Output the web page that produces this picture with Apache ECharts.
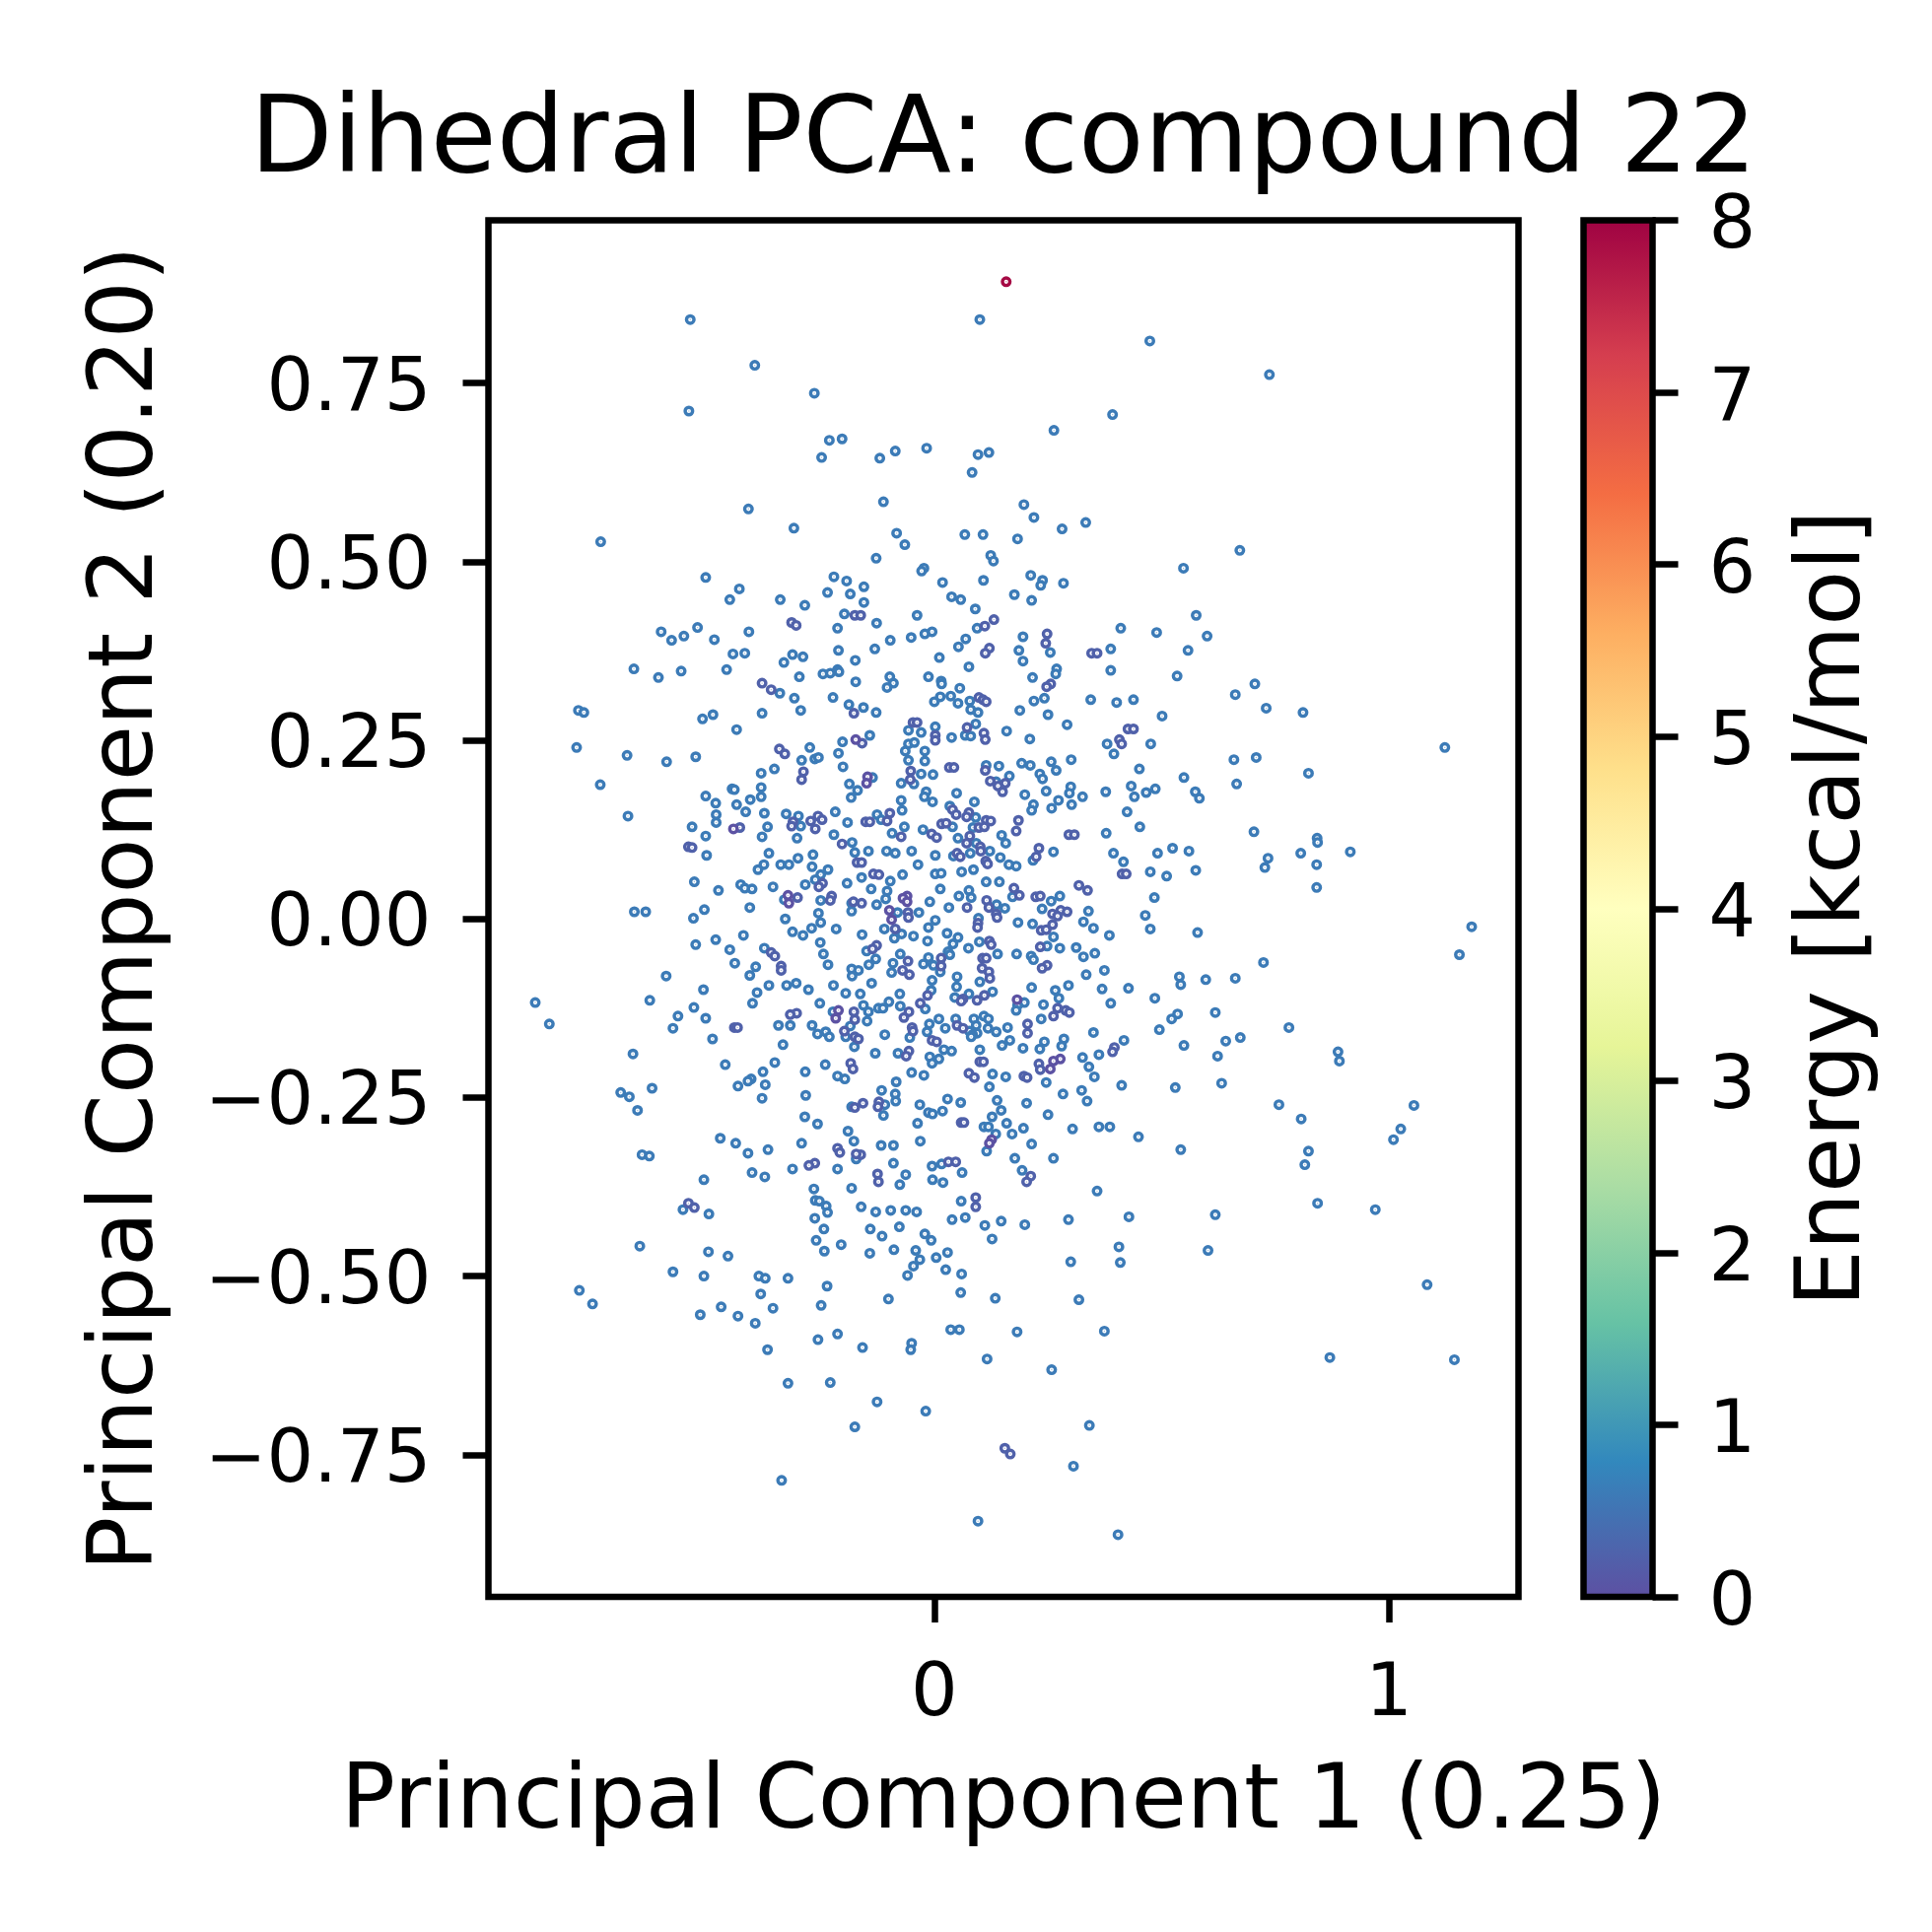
<!DOCTYPE html>
<html><head><meta charset="utf-8">
<style>html,body{margin:0;padding:0;background:#fff}#c{width:1960px;height:1960px}</style>
<script src="https://cdn.jsdelivr.net/npm/echarts@6/dist/echarts.min.js"></script>
</head><body><div id="c"></div>
<script>
const titleText = "Dihedral PCA: compound 22";
const xName = "Principal Component 1 (0.25)";
const yName = "Principal Component 2 (0.20)";
const cbName = "Energy [kcal/mol]";
const xTicks = [0, 1];
const yTicks = [-0.75, -0.5, -0.25, 0, 0.25, 0.5, 0.75];
const cbRange = [0, 8];
const spectralR = ['#5e4fa2','#3288bd','#66c2a5','#abdda4','#e6f598','#ffffbf','#fee08b','#fdae61','#f46d43','#d53e4f','#9e0142'];
const energyBlue = 0.62, energyPurple = 0.25, energyDeep = 0.04, energyHigh = 7.9;
const highPoints = [[.158,.892]];
const bluePoints = [
[-.537,.839],[-.395,.775],[-.264,.736],[-.540,.711],[-.231,.670],[-.248,.646],
[.100,.839],[.474,.809],[.392,.706],[.263,.684],[-.203,.672],[-.120,.645],[-.086,.655],[-.017,.659],[.096,.650],[.120,.653],[.083,.625],[.737,.762],
[-.409,.574],[-.309,.547],[-.734,.528],[-.503,.478],[-.221,.479],[-.429,.462],[-.450,.447],[-.339,.447],[-.235,.457],[-.285,.439],[-.213,.407],[-.601,.402],[-.521,.408],[-.551,.396],[-.578,.390],[-.484,.391],[-.408,.402],[-.443,.371],[-.417,.372],[-.312,.370],[-.289,.367],[-.331,.359],[-.211,.376],[-.661,.350],[-.607,.338],[-.557,.347],[-.457,.349],[-.297,.339],[-.245,.343],[-.229,.344],[-.213,.349],[-.340,.316],[-.308,.309],[-.223,.310],[-.783,.292],[-.771,.289],[-.510,.280],[-.487,.286],[-.379,.288],[-.294,.292],[-.435,.265],[-.787,.240],[-.676,.229],[-.589,.220],[-.525,.227],[-.274,.240],[-.263,.224],[-.255,.226],[-.292,.222],[-.211,.232],[-.352,.210],[-.381,.204],[-.735,.188],[-.381,.184],[-.445,.182],[-.440,.181],[-.381,.171],[-.405,.167],[-.503,.172],[-.481,.162],[-.435,.160],[-.674,.144],[-.415,.150],[-.480,.146],[-.480,.135],[-.374,.148],[-.326,.147],[-.299,.144],[-.218,.150],[-.294,.130],[-.533,.129],[-.367,.129],[-.503,.116],[-.379,.115],[-.302,.113],[-.221,.118],
[-.112,.584],[.197,.580],[.219,.562],[.333,.555],[.281,.546],[-.083,.540],[.067,.538],[.107,.538],[.183,.532],[-.065,.524],[-.128,.505],[.124,.509],[.130,.501],[-.023,.491],[-.028,.487],[.212,.481],[.238,.474],[.234,.467],[.284,.470],[-.193,.473],[.018,.471],[.108,.474],[-.155,.465],[-.185,.455],[.176,.454],[.038,.451],[.058,.447],[.214,.446],[-.155,.443],[.090,.434],[-.198,.427],[-.038,.425],[-.127,.414],[.094,.407],[.410,.407],[.489,.401],[-.005,.402],[-.021,.399],[.069,.392],[-.051,.394],[-.097,.390],[.195,.395],[.053,.381],[-.131,.378],[.186,.376],[.255,.373],[.388,.378],[.011,.366],[-.174,.362],[.195,.361],[.076,.353],[.269,.350],[.388,.348],[-.210,.346],[.267,.343],[-.013,.339],[.216,.338],[-.098,.339],[-.090,.330],[-.104,.324],[-.173,.332],[.015,.333],[.016,.329],[.056,.323],[.036,.312],[.013,.311],[.000,.304],[.078,.305],[.052,.302],[.242,.309],[.219,.305],[.344,.307],[.438,.307],[.401,.303],[-.188,.300],[-.156,.296],[-.128,.289],[.080,.293],[.096,.289],[.188,.292],[.250,.286],[.501,.284],[.292,.272],[.091,.273],[.002,.269],[-.057,.264],[-.029,.261],[.159,.263],[.038,.254],[.068,.257],[.080,.256],[-.142,.257],[.210,.252],[-.202,.248],[-.057,.245],[-.044,.247],[.380,.245],[.476,.245],[-.064,.235],[-.021,.235],[.395,.231],[-.057,.222],[-.021,.221],[.301,.223],[.257,.220],[.192,.218],[.211,.215],[.114,.215],[.142,.214],[-.201,.213],[.268,.208],[.451,.210],[-.029,.203],[-.003,.202],[.232,.203],[.165,.200],[.238,.196],[-.136,.198],[.136,.192],[-.187,.189],[-.073,.190],[-.045,.189],[.300,.185],[.433,.186],[.486,.182],[-.169,.180],[.246,.179],[.297,.176],[.377,.178],[.466,.177],[.049,.176],[-.018,.178],[-.183,.170],[.199,.174],[.440,.171],[.326,.171],[-.022,.171],[-.073,.166],[-.004,.164],[.088,.164],[.273,.166],[.218,.160],[.302,.160],[.034,.158],[-.071,.152],[.258,.155],[.214,.152],[.424,.150],[-.126,.146],[.091,.142],[-.117,.139],[-.191,.135],[.452,.129],[-.066,.129],[-.025,.125],[.040,.129],[.085,.128],[-.093,.120],[.052,.113],[.148,.117],[.378,.120],
[.672,.516],[.548,.491],[.576,.425],[.600,.396],[.558,.376],[.534,.340],[.705,.329],[.662,.314],[.730,.295],[.811,.289],[1.123,.240],[.708,.226],[.659,.223],[.549,.198],[.823,.204],[.665,.189],[.574,.178],[.583,.169],[.703,.122],[.842,.113],
[.843,.107],[.560,.095],[.806,.092],[.915,.094],[.734,.085],[.727,.072],[.841,.076],[.575,.068],[.841,.044],[1.182,-.011],[1.155,-.050],[.579,-.019],[.724,-.061],[.539,-.081],[.542,-.092],[.597,-.085],[.662,-.083],[.618,-.131],[.780,-.152],[.673,-.166],[.641,-.171],[.549,-.177],[.623,-.192],[.888,-.186],[.891,-.199],[.632,-.230],[.758,-.260],[.807,-.280],[1.055,-.261],[1.026,-.294],[1.010,-.309],[.542,-.323],[.823,-.325],[.815,-.344],[.843,-.398],[.970,-.407],[.618,-.414],[.602,-.464],[1.084,-.512],[1.144,-.617],[.870,-.614],
[-.501,.089],[-.364,.092],[-.267,.090],[-.300,.085],[-.375,.076],[-.388,.069],[-.338,.076],[-.320,.076],[-.269,.073],[-.234,.069],[-.250,.062],[-.262,.055],[-.528,.052],[-.426,.048],[-.417,.043],[-.401,.042],[-.475,.040],[-.355,.045],[-.284,.048],[-.330,.027],[-.250,.026],[-.406,.016],[-.506,.013],[-.660,.010],[-.635,.010],[-.530,.001],[-.328,.000],[-.255,.008],[-.250,-.005],[-.216,-.014],[-.270,-.013],[-.312,-.018],[-.289,-.023],[-.420,-.023],[-.481,-.029],[-.525,-.036],[-.251,-.033],[-.450,-.043],[-.374,-.041],[-.244,-.049],[-.439,-.062],[-.393,-.067],[-.234,-.064],[-.406,-.079],[-.590,-.080],[-.364,-.093],[-.325,-.093],[-.304,-.090],[-.277,-.099],[-.222,-.093],[-.508,-.099],[-.390,-.103],[-.878,-.117],[-.626,-.114],[-.400,-.118],[-.252,-.118],[-.529,-.124],[-.223,-.130],[-.564,-.136],[-.503,-.139],[-.847,-.147],[-.575,-.153],[-.343,-.149],[-.317,-.149],[-.269,-.149],[-.257,-.161],[-.239,-.158],[-.231,-.165],[-.488,-.168],[-.333,-.176],[-.663,-.189],[-.351,-.201],[-.460,-.204],[-.240,-.204],[-.377,-.214],[-.284,-.214],[-.213,-.220],[-.403,-.224],[-.410,-.227],[-.372,-.232],[-.432,-.234],[-.621,-.237],[-.690,-.243],[-.671,-.249],[-.379,-.251],[-.283,-.247],[-.653,-.268],[-.285,-.277],[-.257,-.287],[-.471,-.307],[-.437,-.314],[-.292,-.314],[-.410,-.328],[-.366,-.323],[-.643,-.330],[-.627,-.332],[-.312,-.350],[-.401,-.355],[-.373,-.361],[-.213,-.350],[-.507,-.365],
[-.265,-.378],[-.262,-.394],[-.253,-.395],[-.238,-.402],[-.235,-.411],[-.553,-.407],[-.496,-.413],[-.263,-.419],[-.243,-.434],[-.260,-.450],[-.242,-.465],[-.648,-.458],[-.497,-.466],[-.454,-.472],[-.575,-.494],[-.507,-.500],[-.386,-.500],[-.372,-.503],[-.322,-.503],[-.236,-.514],[-.382,-.525],[-.781,-.520],[-.752,-.539],[-.355,-.545],[-.249,-.541],[-.469,-.543],[-.515,-.554],[-.432,-.556],[-.394,-.566],[-.256,-.589],[-.213,-.581],[-.367,-.603],[-.322,-.650],[-.229,-.649],[-.336,-.786],
[-.181,.107],[-.145,.095],[-.105,.095],[-.086,.092],[-.050,.095],[-.175,.093],[.002,.089],[.042,.088],[.079,.092],[.092,.106],[.122,.095],[.157,.106],[.217,.082],[.262,.094],[.394,.092],[.491,.092],[.524,.099],[.416,.080],[-.036,.076],[.145,.086],[.164,.076],[.180,.074],[.475,.066],[.511,.060],[.002,.063],[.015,.064],[.060,.066],[.086,.069],[-.160,.058],[-.070,.062],[-.192,.050],[-.097,.053],[.114,.052],[.143,.052],[.013,.042],[-.139,.042],[-.104,.039],[.076,.040],[.054,.032],[.081,.030],[.172,.031],[.276,.032],[.484,.030],[-.107,.028],[.257,.025],[-.182,.022],[-.127,.020],[-.010,.024],[.137,.020],[.155,.015],[.032,.016],[.237,.014],[-.182,.011],[-.081,.009],[-.034,.009],[.339,.011],[.464,.005],[.097,.001],[.002,-.002],[.184,-.005],[.216,-.007],[.328,-.004],[.350,-.013],[.475,-.014],[-.013,-.012],[-.110,-.014],[.028,-.020],[-.072,-.021],[-.159,-.022],[-.046,-.024],[-.088,-.027],[.052,-.026],[.262,-.025],[.385,-.023],[-.015,-.031],[.041,-.035],[.099,-.032],[-.149,-.045],[.248,-.038],[.075,-.041],[.276,-.041],[.312,-.040],[-.075,-.049],[.030,-.046],[.034,-.050],[.139,-.049],[.181,-.049],[.353,-.048],[.328,-.053],[.213,-.052],[.218,-.057],[-.129,-.056],[-.013,-.054],[-.091,-.062],[-.144,-.064],[-.024,-.063],[-.002,-.065],[-.182,-.070],[-.167,-.072],[.374,-.072],[.013,-.074],[-.094,-.075],[.334,-.078],[-.181,-.080],[.050,-.081],[-.005,-.086],[.100,-.088],[-.138,-.090],[.049,-.095],[.295,-.093],[.214,-.096],[.427,-.097],[.369,-.098],[.128,-.102],[.266,-.100],[-.007,-.100],[-.195,-.104],[-.163,-.105],[-.076,-.105],[.076,-.105],[.274,-.111],[.045,-.110],[.485,-.111],[-.100,-.116],[.198,-.117],[.388,-.118],[-.156,-.121],[-.075,-.122],[.240,-.120],[.183,-.121],[-.123,-.125],[-.113,-.125],[-.020,-.126],[-.145,-.130],[.180,-.128],[.535,-.133],[.010,-.140],[.047,-.140],[.087,-.140],[.109,-.136],[.119,-.140],[.235,-.140],[.522,-.140],[-.148,-.143],[-.011,-.147],[-.185,-.150],[.024,-.153],[.092,-.149],[.118,-.153],[.161,-.152],[-.016,-.158],[.077,-.157],[.094,-.160],[.136,-.158],[.350,-.159],[.495,-.155],[-.109,-.162],[.084,-.162],[.081,-.165],[-.195,-.165],[-.054,-.166],[.285,-.168],[.417,-.170],[.166,-.170],[.242,-.172],[.149,-.177],[.280,-.178],[-.176,-.179],[.195,-.181],[.232,-.182],[.021,-.183],[.038,-.185],[.100,-.183],[-.080,-.188],[-.130,-.188],[.362,-.190],[-.010,-.193],[.326,-.194],[.010,-.196],[-.005,-.202],[.340,-.207],[-.050,-.215],[-.023,-.219],[.128,-.217],[.157,-.221],[.352,-.221],[-.197,-.224],[-.084,-.228],[.246,-.229],[.412,-.233],[.121,-.235],[.530,-.236],[-.116,-.240],[.324,-.240],[-.086,-.245],[.283,-.245],[.029,-.252],[-.085,-.255],[.336,-.255],[.138,-.254],[-.109,-.260],[-.032,-.260],[.058,-.257],[.203,-.258],[-.182,-.263],[.147,-.268],[-.013,-.271],[-.004,-.273],[.018,-.269],[-.112,-.275],[.250,-.274],[.127,-.277],[-.037,-.286],[.159,-.286],[-.190,-.297],[.109,-.291],[.119,-.291],[.362,-.291],[.386,-.291],[.304,-.294],[.196,-.293],[.135,-.301],[.171,-.301],[.449,-.305],[-.177,-.311],[-.031,-.311],[.214,-.315],[-.117,-.317],[-.090,-.317],[.115,-.325],[-.172,-.336],[.177,-.335],[.262,-.335],[.016,-.343],[-.005,-.346],[-.090,-.342],[.061,-.355],[.193,-.352],[-.063,-.358],[-.004,-.365],[.019,-.369],[-.076,-.372],
[-.182,-.377],[.358,-.381],[.059,-.395],[-.161,-.403],[-.129,-.410],[-.096,-.408],[-.063,-.408],[-.039,-.410],[.428,-.417],[.039,-.421],[.068,-.418],[.295,-.421],[.111,-.429],[.147,-.423],[.199,-.428],[-.141,-.434],[-.077,-.431],[-.115,-.444],[-.021,-.441],[-.007,-.450],[.127,-.448],[.406,-.459],[-.205,-.456],[-.142,-.468],[-.089,-.463],[-.041,-.464],[.029,-.467],[.004,-.474],[-.032,-.477],[.300,-.480],[.409,-.481],[-.046,-.486],[.025,-.491],[.060,-.497],[-.059,-.499],[.058,-.523],[-.101,-.532],[.134,-.531],[.318,-.533],[.036,-.575],[.055,-.575],[.182,-.578],[.374,-.577],[-.050,-.594],[-.052,-.603],[-.158,-.600],[.116,-.616],[.258,-.631],[-.126,-.676],[-.019,-.689],[.341,-.709],[-.175,-.711],[.306,-.766],[.096,-.843],[.404,-.862]
];
const purplePoints = [
[-.314,.415],[-.304,.411],[-.379,.330],[-.359,.321],[-.341,.238],[-.329,.231],[-.288,.206],[-.292,.195],[-.256,.144],[-.247,.139],[-.272,.137],[-.311,.136],[-.314,.130],[-.262,.126],[-.428,.128],
[-.175,.425],[-.162,.425],[.131,.419],[.111,.410],[.248,.399],[.245,.386],[.121,.379],[.112,.372],[.346,.372],[.358,.372],[.256,.329],[.247,.325],[.098,.310],[.107,.307],[.114,.304],[-.177,.288],[-.047,.275],[-.038,.275],[.072,.268],[.426,.266],[.438,.266],[.109,.260],[.002,.257],[.002,.250],[.112,.251],[-.159,.246],[.407,.251],[.412,.245],[.033,.212],[.043,.212],[.112,.208],[-.052,.207],[-.053,.195],[.123,.193],[.156,.190],[.140,.186],[.150,.178],[-.098,.148],[.040,.153],[.048,.146],[.076,.149],[.071,.143],[-.104,.137],[.114,.138],[.124,.137],[.185,.138],[.016,.133],[.026,.134],[.098,.128],[.110,.129],[.180,.123],[-.006,.119],[-.073,.115],[.005,.114],[.078,.116],[.296,.118],[.308,.118],[-.151,.136],[-.142,.136],
[-.541,.101],[-.533,.100],[-.246,.050],[-.254,.045],[-.301,.030],[-.226,.032],[-.229,.026],[-.359,-.047],[-.351,-.052],[-.337,-.066],[-.337,-.072],[-.303,-.132],[-.317,-.134],[-.440,-.152],[-.433,-.152],[-.213,-.321],[-.208,-.327],[-.263,-.342],[-.276,-.345],
[-.541,-.398],[-.528,-.404],
[-.203,.105],[.050,.092],[.057,.087],[.071,.106],[.101,.101],[.102,.095],[.230,.099],[.224,.087],[-.170,.079],[-.160,.079],[.113,.081],[.117,.077],[.413,.063],[.422,.063],[-.134,.063],[-.122,.062],[.175,.043],[.318,.047],[.337,.040],[.187,.033],[.223,.031],[.233,.032],[-.178,.024],[-.160,.022],[.115,.026],[.120,.016],[.072,.016],[-.058,.009],[-.057,.002],[.278,.012],[.292,.010],[.260,.007],[.271,.004],[.136,.007],[.138,.002],[.096,-.006],[.095,-.012],[.260,-.008],[-.086,-.014],[.235,-.016],[.246,-.015],[.121,-.031],[.125,-.036],[-.127,-.037],[-.136,-.042],[.233,-.039],[.015,-.055],[.106,-.055],[.114,-.055],[-.058,-.059],[.015,-.066],[.248,-.065],[.237,-.069],[.105,-.069],[-.070,-.072],[.120,-.074],[-.055,-.078],[.122,-.083],[.110,-.107],[-.015,-.107],[.094,-.114],[.063,-.112],[.059,-.115],[-.031,-.118],[.271,-.125],[.289,-.128],[.297,-.131],[-.177,-.130],[-.056,-.130],[.262,-.136],[-.067,-.138],[-.175,-.141],[.050,-.149],[.205,-.147],[.063,-.153],[-.049,-.152],[-.047,-.157],[-.198,-.157],[.205,-.160],[-.175,-.165],[-.167,-.168],[-.005,-.170],[.005,-.172],[.396,-.180],[.392,-.186],[-.056,-.185],[-.062,-.192],[.100,-.200],[.108,-.200],[-.184,-.202],[.230,-.203],[-.179,-.210],[.233,-.211],[.076,-.216],[.088,-.222],[.197,-.220],[.204,-.222],[-.157,-.258],[-.122,-.256],[-.124,-.263],[-.175,-.264],[.059,-.285],[.065,-.285],[-.162,-.330],[-.172,-.329],[.031,-.340],[.047,-.340],[.212,-.360],[-.125,-.357],[-.123,-.368],[.203,-.368],
[.091,-.390],[.091,-.403],[.155,-.741],[.167,-.749]
];
const deepPoints = [
[-.442,.126],[-.322,.033],[-.320,.022],[-.147,.199],[-.149,.190],[-.173,.251],[-.211,-.128],[-.217,-.139],[-.060,.032],[-.069,.029],[-.060,.024],[-.099,.012],[-.094,-.001],[.182,-.113],[.277,-.196],[.262,-.199],[.255,-.210],[.126,-.309],[.121,-.314]
];

const pts = [];
bluePoints.forEach(p => pts.push([p[0], p[1], energyBlue]));
purplePoints.forEach(p => pts.push([p[0], p[1], energyPurple]));
deepPoints.forEach(p => pts.push([p[0], p[1], energyDeep]));
highPoints.forEach(p => pts.push([p[0], p[1], energyHigh]));

const FONT = 'DejaVu Sans';
const chart = echarts.init(document.getElementById('c'), null, {renderer:'canvas', width:1960, height:1960});
const colorStops = spectralR.map((c,i)=>({offset:1-i/(spectralR.length-1), color:c}));
const yLabel = v => { const s = Math.abs(v).toFixed(2); return '{t|'+(v<0?'\u2212':'')+s+'}'; };
const tickStyle = {show:true,length:26,lineStyle:{width:6.5,color:'#000'}};
chart.setOption({
  animation:false,
  backgroundColor:'#fff',
  title:{text:titleText,left:1013,top:141,textAlign:'center',textVerticalAlign:'middle',
    textStyle:{fontFamily:FONT,fontSize:108.8,fontWeight:'normal',color:'#000'}},
  visualMap:{show:false,type:'continuous',min:cbRange[0],max:cbRange[1],dimension:2,seriesIndex:0,inRange:{color:spectralR}},
  grid:[
    {left:495.5,top:223.5,width:1045,height:1396.5,show:true,borderColor:'#000',borderWidth:6.5,backgroundColor:'#fff'},
    {left:1606.5,top:223.5,width:70,height:1396.5,show:false}
  ],
  xAxis:[
    {type:'value',gridIndex:0,position:'bottom',min:-.981,max:1.285,splitLine:{show:false},axisLine:{show:false,onZero:false},
     axisTick:{...tickStyle,customValues:xTicks},
     axisLabel:{margin:63,fontFamily:FONT,fontSize:75,color:'#000',customValues:xTicks,formatter:v=>String(v),showMinLabel:true,showMaxLabel:true},
     name:xName,nameLocation:'middle',nameGap:164,nameTextStyle:{fontFamily:FONT,fontSize:91.7,color:'#000'}},
    {type:'value',gridIndex:1,min:0,max:1,show:false}
  ],
  yAxis:[
    {type:'value',gridIndex:0,position:'left',min:-.949,max:.978,splitLine:{show:false},axisLine:{show:false,onZero:false},
     axisTick:{...tickStyle,customValues:yTicks},
     axisLabel:{margin:58,customValues:yTicks,formatter:yLabel,
       rich:{t:{fontFamily:FONT,fontSize:75,color:'#000',padding:[15,0,0,0]}}},
     name:yName,nameLocation:'middle',nameGap:319,nameRotate:90,nameTextStyle:{fontFamily:FONT,fontSize:91.7,color:'#000'}},
    {type:'value',gridIndex:1,min:cbRange[0],max:cbRange[1],interval:1,position:'right',splitLine:{show:false},
     axisLine:{show:false,onZero:false},
     axisTick:tickStyle,
     axisLabel:{margin:57,formatter:v=>'{t|'+v+'}',
       rich:{t:{fontFamily:FONT,fontSize:75,color:'#000',padding:[17,0,0,0]}}},
     name:cbName,nameLocation:'middle',nameGap:140,nameRotate:90,nameTextStyle:{fontFamily:FONT,fontSize:91.7,color:'#000'}}
  ],
  series:[
    {type:'custom',xAxisIndex:0,yAxisIndex:0,data:pts,silent:true,z:3,clip:true,encode:{x:0,y:1},
     renderItem:(params,api)=>{
       const c=api.coord([api.value(0),api.value(1)]), col=api.visual('color');
       return {type:'group',children:[
         {type:'circle',shape:{cx:c[0],cy:c[1],r:3.8},style:{fill:'#fff',stroke:col,lineWidth:3.4}},
         {type:'circle',shape:{cx:c[0],cy:c[1],r:0.7},style:{fill:col,opacity:0.5}}
       ]};
     }},
    {type:'custom',xAxisIndex:1,yAxisIndex:1,silent:true,z:3,clip:false,
     data:[[0,cbRange[0],1,cbRange[1]]],encode:{x:[0,2],y:[1,3]},
     renderItem:(params,api)=>{
       const a=api.coord([api.value(0),api.value(1)]), b=api.coord([api.value(2),api.value(3)]);
       return {type:'rect',shape:{x:a[0],y:b[1],width:b[0]-a[0],height:a[1]-b[1]},
         style:{fill:new echarts.graphic.LinearGradient(0,0,0,1,colorStops),stroke:'#000',lineWidth:6.5}};
     }}
  ]
});
</script></body></html>
